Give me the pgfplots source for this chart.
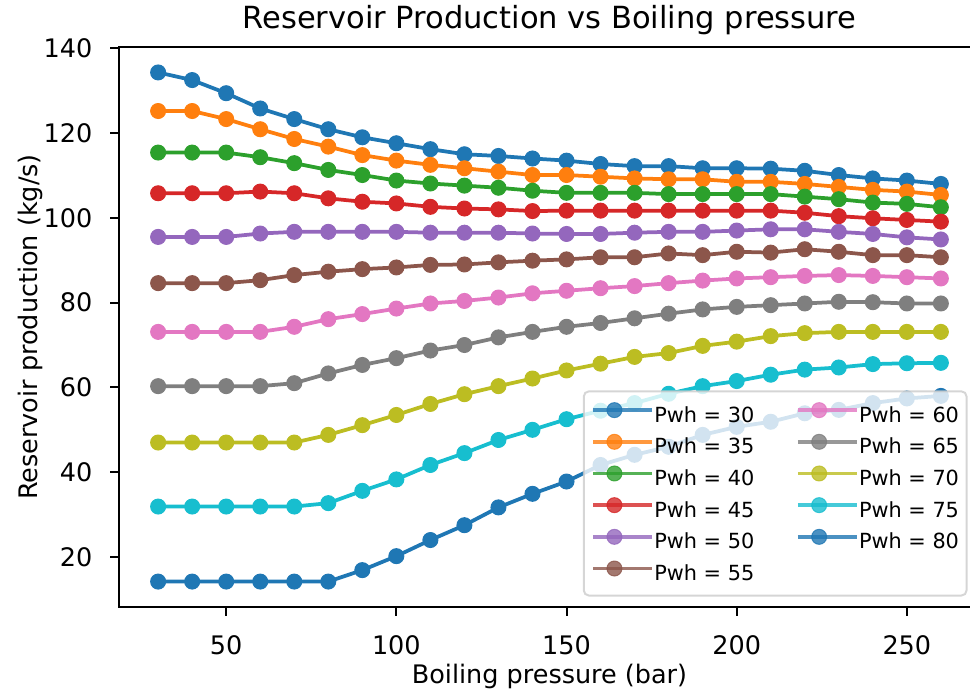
\documentclass[border=0pt]{standalone}
\usepackage{fontspec}
\setmainfont{DejaVu Sans}
\usepackage{pgfplots}
\usepackage{pgfplotstable}
\pgfplotsset{compat=1.18}

\definecolor{c0}{HTML}{1F77B4}
\definecolor{c1}{HTML}{FF7F0E}
\definecolor{c2}{HTML}{2CA02C}
\definecolor{c3}{HTML}{D62728}
\definecolor{c4}{HTML}{9467BD}
\definecolor{c5}{HTML}{8C564B}
\definecolor{c6}{HTML}{E377C2}
\definecolor{c7}{HTML}{7F7F7F}
\definecolor{c8}{HTML}{BCBD22}
\definecolor{c9}{HTML}{17BECF}

% Reservoir production (kg/s) against boiling pressure (bar), one column per wellhead pressure
\pgfplotstableread{
x   p30   p35   p40   p45   p50  p55  p60  p65  p70  p75  p80
30  134.3 125.2 115.4 105.8 95.5 84.6 73.1 60.3 47.0 31.9 14.2
40  132.5 125.2 115.4 105.8 95.5 84.6 73.1 60.3 47.0 31.9 14.2
50  129.4 123.3 115.4 105.8 95.5 84.6 73.1 60.3 47.0 31.9 14.2
60  125.8 120.9 114.3 106.2 96.3 85.3 73.1 60.3 47.0 31.9 14.2
70  123.3 118.6 112.9 105.8 96.7 86.5 74.3 61.0 47.0 31.9 14.2
80  120.9 116.8 111.3 104.6 96.7 87.3 76.1 63.3 48.8 32.7 14.2
90  119.0 114.8 110.1 103.8 96.7 87.9 77.3 65.3 51.1 35.6 16.9
100 117.6 113.5 108.8 103.4 96.7 88.3 78.6 66.9 53.5 38.3 20.2
110 116.2 112.5 108.1 102.6 96.5 88.9 79.8 68.7 56.1 41.7 24.0
120 115.0 111.7 107.6 102.2 96.5 89.0 80.4 70.0 58.4 44.5 27.5
130 114.6 110.9 107.1 102.0 96.5 89.5 81.2 71.8 60.3 47.6 31.7
140 114.0 110.1 106.4 101.6 96.3 89.9 82.2 73.1 62.1 50.0 34.9
150 113.5 110.1 105.9 101.7 96.2 90.2 82.8 74.3 64.0 52.5 37.8
160 112.7 109.7 105.9 101.7 96.2 90.7 83.4 75.2 65.6 54.5 41.7
170 112.2 109.3 105.9 101.7 96.5 90.7 83.9 76.3 67.2 56.3 44.1
180 112.2 109.1 105.6 101.7 96.7 91.6 84.6 77.4 68.1 58.5 46.0
190 111.7 109.1 105.6 101.7 96.7 91.2 85.2 78.4 69.8 60.3 48.8
200 111.7 108.5 105.6 101.7 97.0 92.0 85.7 79.0 70.8 61.5 50.7
210 111.6 108.5 105.6 101.7 97.3 91.8 86.0 79.4 72.1 63.0 51.9
220 111.1 108.0 105.0 101.2 97.3 92.6 86.3 79.8 72.8 64.2 53.9
230 110.1 107.3 104.4 100.4 96.7 92.0 86.5 80.2 73.1 64.7 54.7
240 109.3 106.6 103.6 99.9  96.2 91.2 86.3 80.1 73.1 65.5 56.3
250 108.8 106.2 103.3 99.5  95.4 91.2 86.0 79.8 73.1 65.7 57.4
260 108.0 105.4 102.5 99.1  94.9 90.7 85.7 79.8 73.1 65.8 58.0
}\prodtable

\pgfplotsset{
  ser/.style={color=#1, line width=1.5pt, mark=*, mark size=3pt,
    mark options={solid, line width=0.4pt, fill=#1, draw=#1}},
}

\begin{document}
\begin{tikzpicture}
\begin{axis}[
  at={(0,0)}, anchor=south west,
  scale only axis, width=344.4pt, height=224pt,
  xmin=18.5, xmax=271.5, ymin=8.2, ymax=140.3,
  xtick={50,100,...,250}, ytick={20,40,...,140},
  tick pos=left, tick align=outside, major tick length=3.5pt,
  every tick/.style={black, line width=0.8pt},
  axis line style={line width=0.8pt, black},
  /pgf/number format/assume math mode=true,
  ticklabel style={font=\fontsize{10.2}{12}\selectfont, inner sep=0pt},
  xticklabel shift=7.6pt, yticklabel shift=7pt,
  title={Reservoir Production vs Boiling pressure},
  every axis title/.style={at={(axis description cs:0.5,1)}, anchor=base, yshift=7.6pt,
    font=\fontsize{12.2}{14}\selectfont},
  xlabel={Boiling pressure (bar)},
  ylabel={Reservoir production (kg/s)},
  every axis x label/.style={at={(axis description cs:0.5,-0.1357)}, anchor=base,
    font=\fontsize{10.2}{12}\selectfont},
  every axis y label/.style={at={(axis description cs:-0.0947,0.5)}, rotate=90, anchor=base,
    font=\fontsize{10.2}{12}\selectfont},
  legend columns=2,
  legend cell align=left,
  legend image code/.code={
    \draw[mark repeat=2, mark phase=2] plot coordinates {(0pt,2.3pt) (8.5pt,2.3pt) (17pt,2.3pt)};
    \path (17pt,2.3pt) -- (23.7pt,2.3pt);
  },
  legend style={
    at={(axis description cs:1,0)}, anchor=south east, xshift=-5pt, yshift=4.2pt,
    fill=white, fill opacity=0.8, draw opacity=0.8, text opacity=1,
    draw=black!20, line width=0.8pt, rounded corners=2pt,
    font=\fontsize{8.33}{10}\selectfont,
    inner xsep=3pt, inner ysep=4.5pt,
    row sep=3.37pt,
    nodes={inner sep=0pt, text height=6.5pt, text depth=1.5pt},
    /tikz/every even column/.append style={column sep=16.7pt},
  },
]
\addplot[ser=c0, forget plot] table[x=x, y=p30] {\prodtable};
\addplot[ser=c1, forget plot] table[x=x, y=p35] {\prodtable};
\addplot[ser=c2, forget plot] table[x=x, y=p40] {\prodtable};
\addplot[ser=c3, forget plot] table[x=x, y=p45] {\prodtable};
\addplot[ser=c4, forget plot] table[x=x, y=p50] {\prodtable};
\addplot[ser=c5, forget plot] table[x=x, y=p55] {\prodtable};
\addplot[ser=c6, forget plot] table[x=x, y=p60] {\prodtable};
\addplot[ser=c7, forget plot] table[x=x, y=p65] {\prodtable};
\addplot[ser=c8, forget plot] table[x=x, y=p70] {\prodtable};
\addplot[ser=c9, forget plot] table[x=x, y=p75] {\prodtable};
\addplot[ser=c0, forget plot] table[x=x, y=p80] {\prodtable};

% legend filled row by row so that it reads down each column
\addlegendimage{ser=c0}\addlegendentry{Pwh = 30}
\addlegendimage{ser=c6}\addlegendentry{Pwh = 60}
\addlegendimage{ser=c1}\addlegendentry{Pwh = 35}
\addlegendimage{ser=c7}\addlegendentry{Pwh = 65}
\addlegendimage{ser=c2}\addlegendentry{Pwh = 40}
\addlegendimage{ser=c8}\addlegendentry{Pwh = 70}
\addlegendimage{ser=c3}\addlegendentry{Pwh = 45}
\addlegendimage{ser=c9}\addlegendentry{Pwh = 75}
\addlegendimage{ser=c4}\addlegendentry{Pwh = 50}
\addlegendimage{ser=c0}\addlegendentry{Pwh = 80}
\addlegendimage{ser=c5}\addlegendentry{Pwh = 55}
\end{axis}
\pgfresetboundingbox
\path[use as bounding box] (-47.6pt,-34pt) rectangle (340.4pt,242.8pt);
\end{tikzpicture}
\end{document}
